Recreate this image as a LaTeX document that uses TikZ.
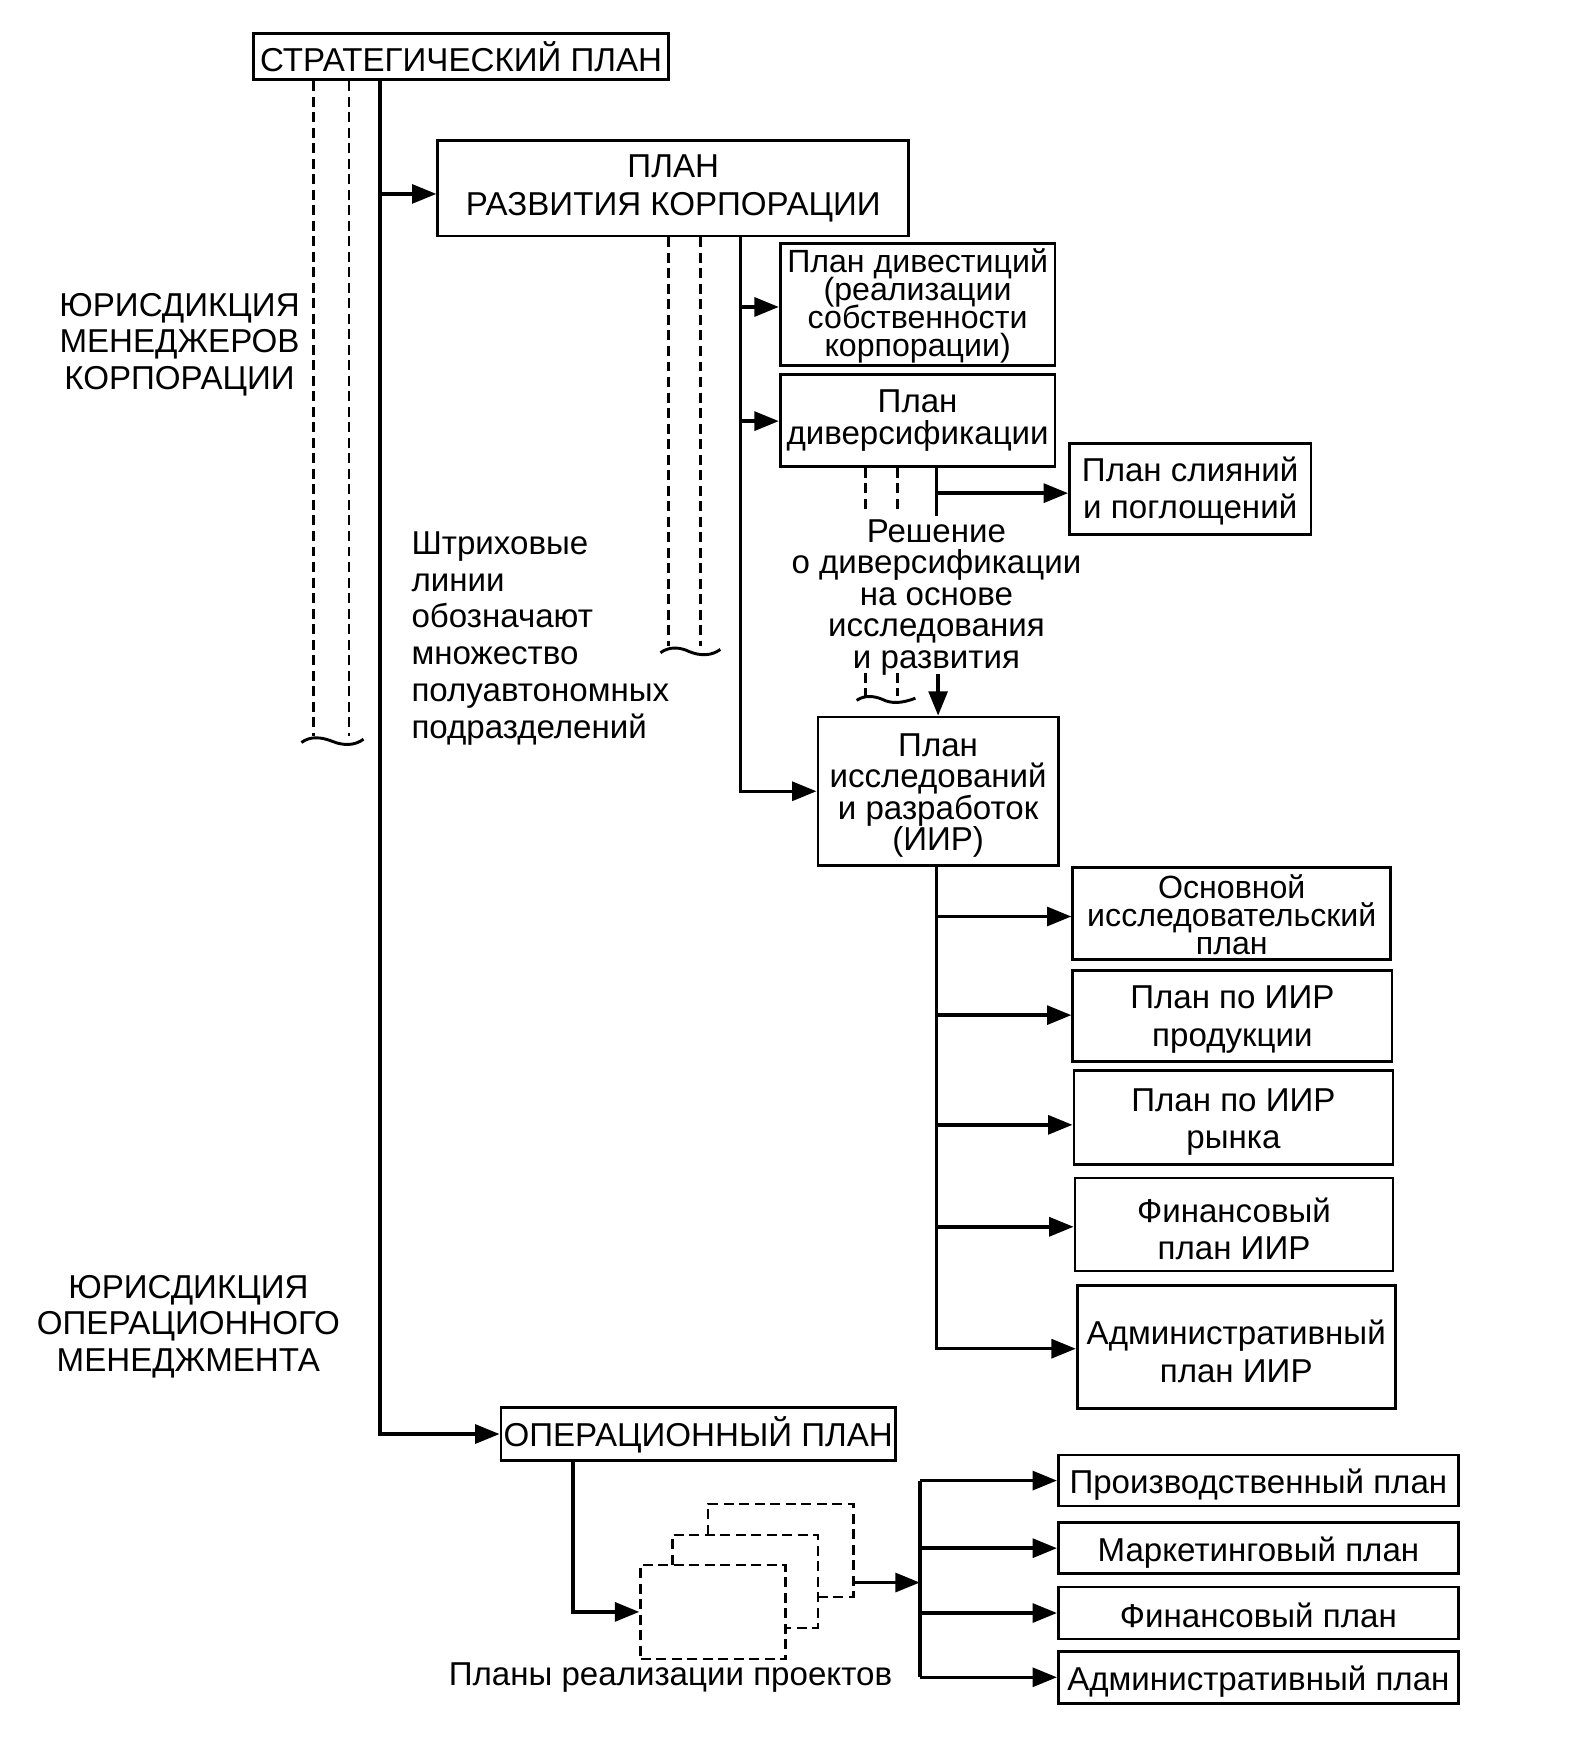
\documentclass[tikz,border=0pt]{standalone}
\usepackage{fontspec}
\setmainfont{Liberation Sans}
\usetikzlibrary{arrows.meta}
\newcommand\fszA{\fontsize{17}{18.8}\selectfont}
\tikzset{
  box/.style={draw, line width=1.4pt, inner sep=0pt},
  txt/.style={inner sep=0pt, align=center, font=\fszA, yshift=-0.08cm},
  wh/.style 2 args={minimum width=#1*0.02cm, minimum height=#2*0.02cm},
  dbox/.style={line width=1.3pt, dash pattern=on 0.18cm off 0.1cm},
  conn/.style={line width=1.8pt},
  arr/.style={conn, -{Triangle[length=0.44cm,width=0.34cm]}},
  dsh/.style={line width=1.3pt, dash pattern=on 0.18cm off 0.1cm},
  lbl/.style={inner sep=0pt, align=center, font=\fszA},
  squiggle/.style={line width=1.5pt},
}
\begin{document}
\begin{tikzpicture}[x=0.02cm, y=-0.02cm]
\useasboundingbox (0,0) rectangle (1416,1571);
% boxes
\node[box, wh={375}{42}, label={[txt, yshift=0.08cm]center:{СТРАТЕГИЧЕСКИЙ ПЛАН}}] (strat) at (416,51) {};
\node[box, wh={425}{86}, label={[txt, yshift=0.08cm, font={\fontsize{17}{19.5}\selectfont}]center:{ПЛАН\\РАЗВИТИЯ КОРПОРАЦИИ}}] (razv) at (607.5,170) {};
\node[box, wh={248}{110}, label={[txt, yshift=0.06cm, font={\fontsize{16.5}{14.4}\selectfont\lineskiplimit=-50pt}]center:{План дивестиций\\(реализации\\собственности\\корпорации)}}] (divest) at (828,275) {};
\node[box, wh={248}{83}, label={[txt, yshift=0.08cm, font={\fontsize{17}{16}\selectfont}]center:{План\\диверсификации}}] (divers) at (828,379.5) {};
\node[box, wh={218}{82}, label={[txt, yshift=0.04cm, font={\fontsize{17}{19}\selectfont}]center:{План слияний\\и поглощений}}] (sliyan) at (1074,441) {};
\node[box, wh={217}{134}, label={[txt, font={\fontsize{17}{16.1}\selectfont}]center:{План\\исследований\\и разработок\\(ИИР)}}] (iir) at (846.5,714) {};
\node[box, wh={287}{83}, label={[txt, yshift=0.06cm, font={\fontsize{16.5}{14.5}\selectfont\lineskiplimit=-50pt}]center:{Основной\\исследовательский\\план}}] (osn) at (1111.5,824.5) {};
\node[box, wh={288}{82}, label={[txt, yshift=0.02cm, font={\fontsize{17}{19.3}\selectfont}]center:{План по ИИР\\продукции}}] (prod) at (1112,917) {};
\node[box, wh={288}{85}, label={[txt, font={\fontsize{17}{19.3}\selectfont}]center:{План по ИИР\\рынка}}] (ryn) at (1113,1008.5) {};
\node[box, wh={287}{84}, label={[txt, font={\fontsize{17}{19.3}\selectfont}]center:{Финансовый\\план ИИР}}] (fin) at (1113.5,1105) {};
\node[box, wh={287}{111}, label={[txt, font={\fontsize{17}{19.3}\selectfont}]center:{Административный\\план ИИР}}] (adm) at (1115.5,1215.5) {};
\node[box, wh={356}{48}, label={[txt, yshift=0.06cm]center:{ОПЕРАЦИОННЫЙ ПЛАН}}] (oper) at (630,1294) {};
\node[box, wh={361}{46}, label={[txt]center:{Производственный план}}] (p1) at (1135.5,1336) {};
\node[box, wh={361}{46}, label={[txt]center:{Маркетинговый план}}] (p2) at (1135.5,1397) {};
\node[box, wh={361}{47}, label={[txt, yshift=0.03cm]center:{Финансовый план}}] (p3) at (1135.5,1455.5) {};
\node[box, wh={361}{47}, label={[txt]center:{Административный план}}] (p4) at (1135.5,1513.5) {};
% project plans (dashed stacked boxes)
\node[dbox, draw, wh={131}{85}, inner sep=0pt] (front) at (643.5,1454.5) {};
\draw[dbox] (607,1412) -- (607,1385) -- (738,1385) -- (738,1469) -- (709,1469);
\draw[dbox] (639,1385) -- (639,1357) -- (770,1357) -- (770,1441) -- (738,1441);
\coordinate (back) at (770,1428);
% labels
\node[lbl] (jur1) at (162,311) {ЮРИСДИКЦИЯ\\МЕНЕДЖЕРОВ\\КОРПОРАЦИИ};
\node[lbl] (jur2) at (170,1197) {ЮРИСДИКЦИЯ\\ОПЕРАЦИОННОГО\\МЕНЕДЖМЕНТА};
\node[lbl, align=left, anchor=west, font={\fontsize{17}{18.9}\selectfont}] (note) at (371,576) {Штриховые\\линии\\обозначают\\множество\\полуавтономных\\подразделений};
\node[lbl, font={\fontsize{17}{16.2}\selectfont}] (resh) at (845,539) {Решение\\о диверсификации\\на основе\\исследования\\и развития};
\node[lbl] (projl) at (605,1514) {Планы реализации проектов};
% strategic plan connectors
\draw[dsh] (strat.south -| 283,0) -- (283,664);
\draw[dsh] (strat.south -| 315,0) -- (315,664);
\draw[squiggle] (272,670) .. controls (280,664) and (290,665) .. (300,669) .. controls (310,673) and (320,673) .. (328,667);
\draw[arr] (strat.south -| 343,0) |- (oper.west);
\draw[arr] (343,175) -- (razv.west |- 343,175);
% corporate development connectors
\draw[dsh] (razv.south -| 603,0) -- (603,583);
\draw[dsh] (razv.south -| 632,0) -- (632,583);
\draw[squiggle] (596,589) .. controls (604,583) and (614,584) .. (622,588) .. controls (632,592) and (642,592) .. (650,586);
\draw[arr] (razv.south -| 668,0) |- (iir.west);
\draw[arr] (668,277) -- (divest.west |- 668,277);
\draw[arr] (668,380) -- (divers.west |- 668,380);
% diversification connectors
\draw[dsh] (divers.south -| 781,0) -- (781,462);
\draw[dsh] (divers.south -| 810,0) -- (810,462);
\draw[conn] (divers.south -| 845,0) -- (845,466);
\draw[arr] (845,445) -- (sliyan.west |- 845,445);
\draw[dsh] (781,607) -- (781,628);
\draw[dsh] (810,607) -- (810,628);
\draw[squiggle] (773,632) .. controls (780,627) and (789,628) .. (796,631) .. controls (804,635) and (813,635) .. (826,630);
\draw[arr] (iir.north |- 0,608) -- (iir.north);
% IIR connectors
\draw[arr] (iir.south -| 845,0) |- (adm.west |- 0,1217);
\draw[arr] (845,827) -- (osn.west |- 845,827);
\draw[arr] (845,916) -- (prod.west |- 845,916);
\draw[arr] (845,1015) -- (ryn.west |- 845,1015);
\draw[arr] (845,1107) -- (fin.west |- 845,1107);
% operational connectors
\draw[arr] (oper.south -| 517,0) |- (front.west);
\coordinate (junc) at (830,1428);
\draw[arr] (back) -- (junc);
\draw[conn] (junc |- p1.west) -- (junc |- p4.west);
\draw[arr] (junc |- p1.west) -- (p1.west);
\draw[arr] (junc |- p2.west) -- (p2.west);
\draw[arr] (junc |- p3.west) -- (p3.west);
\draw[arr] (junc |- p4.west) -- (p4.west);
\end{tikzpicture}
\end{document}
